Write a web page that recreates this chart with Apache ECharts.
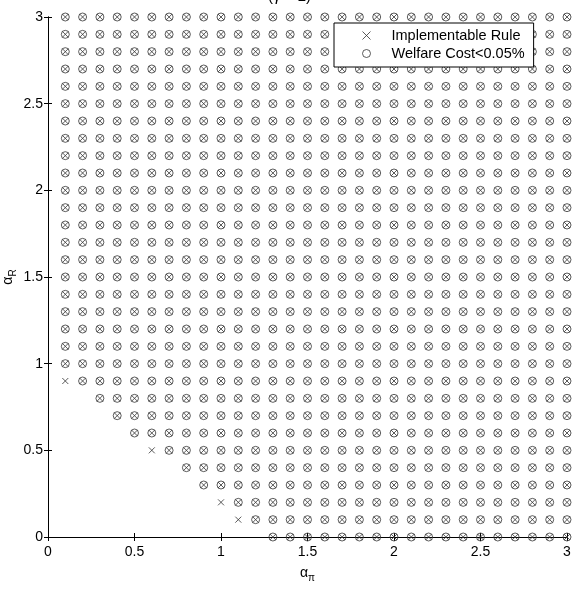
<!DOCTYPE html>
<html>
<head>
<meta charset="utf-8">
<script src="https://cdn.jsdelivr.net/npm/echarts@6/dist/echarts.min.js"></script>
<style>
  html, body { margin: 0; padding: 0; background: #fff; }
  #chart { width: 579px; height: 593px; }
</style>
</head>
<body>
<div id="chart"></div>
<script>
// grid of alpha_pi values tested
const alphaPi = [0.1, 0.2, 0.3, 0.4, 0.5, 0.6, 0.7, 0.8, 0.9, 1.0,
                 1.1, 1.2, 1.3, 1.4, 1.5, 1.6, 1.7, 1.8, 1.9, 2.0,
                 2.1, 2.2, 2.3, 2.4, 2.5, 2.6, 2.7, 2.8, 2.9, 3.0]
// grid of alpha_R values tested
const alphaR = [0.0, 0.1, 0.2, 0.3, 0.4, 0.5, 0.6, 0.7, 0.8, 0.9,
                1.0, 1.1, 1.2, 1.3, 1.4, 1.5, 1.6, 1.7, 1.8, 1.9,
                2.0, 2.1, 2.2, 2.3, 2.4, 2.5, 2.6, 2.7, 2.8, 2.9, 3.0]
// smallest implementable alpha_pi for each alpha_R row
const rowStart = [1.3, 1.1, 1.0, 0.9, 0.8, 0.6, 0.5, 0.4, 0.3, 0.1,
                  0.1, 0.1, 0.1, 0.1, 0.1, 0.1, 0.1, 0.1, 0.1, 0.1,
                  0.1, 0.1, 0.1, 0.1, 0.1, 0.1, 0.1, 0.1, 0.1, 0.1, 0.1]
// implementable but welfare cost not below threshold
const crossOnly = [[0.1, 0.9], [0.6, 0.5], [1.0, 0.2], [1.1, 0.1]]
const axisTicks = ['0', '0.5', '1', '1.5', '2', '2.5', '3']

const implementable = []
const lowCost = []
alphaR.forEach((r, i) => {
  alphaPi.forEach(p => {
    if (p < rowStart[i] - 1e-9) return
    implementable.push([p, r])
    const only = crossOnly.some(c => Math.abs(c[0] - p) < 1e-9 && Math.abs(c[1] - r) < 1e-9)
    if (!only) lowCost.push([p, r])
  })
})

const crossPath = 'path://M0,0L10,10M10,0L0,10'
const ink = '#333'
const font = 'Liberation Sans, Arial, sans-serif'
const markStyle = { color: 'transparent', borderColor: ink, borderWidth: 1 }

const chart = echarts.init(document.getElementById('chart'))

const baseAxis = {
  type: 'value',
  min: 0,
  max: 3,
  interval: 0.5,
  splitLine: { show: false },
  axisLine: { show: true, lineStyle: { color: '#000', width: 1 } },
  axisTick: { show: true, inside: true, length: 4, lineStyle: { color: '#000' } }
}

chart.setOption({
  animation: false,
  title: {
    text: '(γ = 2)',
    left: 'center',
    top: -16,
    textStyle: { fontFamily: font, fontSize: 15, fontWeight: 'normal', color: '#000' }
  },
  grid: { left: 48, right: 12, top: 17, bottom: 56, containLabel: false, outerBoundsMode: 'none' },
  legend: {
    orient: 'vertical',
    left: 334,
    top: 23,
    z: 10,
    padding: [5, 9, 6, 28],
    itemGap: 3,
    itemWidth: 8,
    itemHeight: 8,
    backgroundColor: '#fff',
    borderColor: '#000',
    borderWidth: 1,
    borderRadius: 0,
    textStyle: { fontFamily: font, fontSize: 14.5, lineHeight: 15, color: '#000', padding: [0, 0, 0, 16] },
    data: [
      { name: 'Implementable Rule', icon: crossPath, itemStyle: markStyle },
      { name: 'Welfare Cost<0.05%', icon: 'circle', itemStyle: markStyle }
    ]
  },
  xAxis: [
    Object.assign({}, baseAxis, {
      position: 'bottom',
      name: '{a|α}{s|π}',
      nameLocation: 'middle',
      nameGap: 26,
      nameMoveOverlap: false,
      nameTextStyle: {
        rich: {
          a: { fontFamily: font, fontSize: 14, color: '#000' },
          s: { fontFamily: font, fontSize: 10, color: '#000', padding: [10, 0, 0, 0] }
        }
      },
      axisLabel: {
        fontFamily: font, fontSize: 14, color: '#000', margin: 8,
        formatter: v => axisTicks[Math.round(v * 2)]
      }
    }),
    Object.assign({}, baseAxis, { position: 'top', axisLabel: { show: false } })
  ],
  yAxis: [
    Object.assign({}, baseAxis, {
      position: 'left',
      name: '{a|α}{s|R}',
      nameLocation: 'middle',
      nameRotate: 90,
      nameGap: 30,
      nameMoveOverlap: false,
      nameTextStyle: {
        rich: {
          a: { fontFamily: font, fontSize: 14, color: '#000' },
          s: { fontFamily: font, fontSize: 10, color: '#000', padding: [10, 0, 0, 0] }
        }
      },
      axisLabel: {
        fontFamily: font, fontSize: 14, color: '#000', margin: 5,
        formatter: v => axisTicks[Math.round(v * 2)]
      }
    }),
    Object.assign({}, baseAxis, { position: 'right', axisLabel: { show: false } })
  ],
  series: [
    {
      name: 'Implementable Rule',
      type: 'scatter',
      data: implementable,
      symbol: crossPath,
      symbolSize: 6,
      clip: false,
      z: 3,
      itemStyle: markStyle
    },
    {
      name: 'Welfare Cost<0.05%',
      type: 'scatter',
      data: lowCost,
      symbol: 'circle',
      symbolSize: 8,
      clip: false,
      z: 4,
      itemStyle: markStyle
    }
  ]
})
</script>
</body>
</html>
